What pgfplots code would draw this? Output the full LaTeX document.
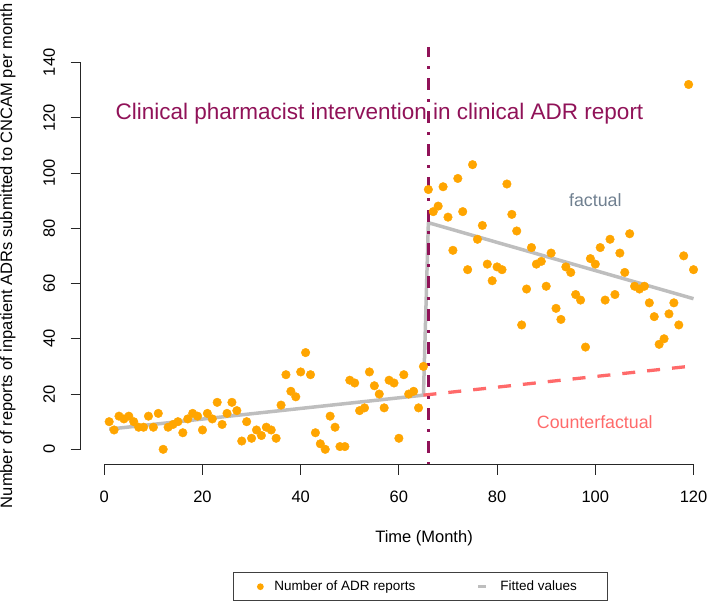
\documentclass[border=0pt]{standalone}
\usepackage{fontspec}
\setmainfont{Liberation Sans}
\usepackage{pgfplots}
\usepackage{pgfplotstable}
\pgfplotsset{compat=1.18}

\definecolor{ptorange}{HTML}{FFA500}
\definecolor{fitgray}{HTML}{BEBEBE}
\definecolor{cfred}{HTML}{FF6A6A}
\definecolor{intv}{HTML}{901258}
\definecolor{factcol}{HTML}{708090}

% monthly ADR reports
\pgfplotstableread{
month count
1 10
2 7
3 12
4 11
5 12
6 10
7 8
8 8
9 12
10 8
11 13
12 0
13 8
14 9
15 10
16 6
17 11
18 13
19 12
20 7
21 13
22 11
23 17
24 9
25 13
26 17
27 14
28 3
29 10
30 4
31 7
32 5
33 8
34 7
35 4
36 16
37 27
38 21
39 19
40 28
41 35
42 27
43 6
44 2
45 0
46 12
47 8
48 1
49 1
50 25
51 24
52 14
53 15
54 28
55 23
56 20
57 15
58 25
59 24
60 4
61 27
62 20
63 21
64 15
65 30
66 94
67 86
68 88
69 95
70 84
71 72
72 98
73 86
74 65
75 103
76 76
77 81
78 67
79 61
80 66
81 65
82 96
83 85
84 79
85 45
86 58
87 73
88 67
89 68
90 59
91 71
92 51
93 47
94 66
95 64
96 56
97 54
98 37
99 69
100 67
101 73
102 54
103 76
104 56
105 71
106 64
107 78
108 59
109 58
110 59
111 53
112 48
113 38
114 40
115 49
116 53
117 45
118 70
119 132
120 65
}\adrdata

\begin{document}
\begin{tikzpicture}
\begin{axis}[
  scale only axis,
  width=627.3pt, height=417.9pt,
  xmin=-4.8, xmax=122.95, ymin=-5.6, ymax=145.6,
  clip=false,
  axis lines*=left,
  axis line style={draw=none},
  tick align=outside,
  major tick length=10pt,
  tick style={black!85, line width=0.8pt},
  xtick={0,20,...,120}, ytick={0,20,...,140},
  /pgf/number format/assume math mode=true,
  ticklabel style={font=\fontsize{16.5}{18}\selectfont},
  yticklabel style={rotate=90, anchor=base, yshift=15.7pt},
  xticklabel style={anchor=base, yshift=-27.5pt},
  xlabel={Time (Month)},
  ylabel={Number of reports of inpatient ADRs submitted to CNCAM per month},
  label style={font=\fontsize{16.5}{18}\selectfont},
  xlabel style={at={(0.5473,-0.1855)}, anchor=base},
  ylabel style={at={(-0.1095,0.5)}, anchor=base},
  legend columns=-1,
  legend style={at={(0.2421,-0.2572)}, anchor=north west,
    draw=black!75, line width=0.8pt, inner xsep=0pt, inner ysep=0pt,
    font=\fontsize{13.5}{16}\selectfont,
    nodes={inner sep=0pt}, column sep=0pt},
  legend cell align=left,
]
\addplot[only marks, mark=*, mark size=4.3pt,
  mark options={fill=ptorange, draw=ptorange},
  legend image code/.code={%
    \path[draw=none, fill=none] (0pt,-14pt) rectangle (41.4pt,14pt);
    \fill[ptorange, draw=none] (27.4pt,0pt) circle (3.4pt);}]
  table[x=month, y=count] {\adrdata};
\addlegendentry{Number of ADR reports}

% segmented regression fit
\addplot[fitgray, line width=3.5pt, line join=round,
  legend image code/.code={%
    \path[draw=none, fill=none] (0pt,-14pt) rectangle (85pt,14pt);
    \draw[fitgray, line width=3.5pt] (63pt,0pt) -- (71pt,0pt);}]
  coordinates {(1,7.3) (65,19.6) (66,82) (120,54.5)};
\addlegendentry{Fitted values\hspace*{30.8pt}}

% counterfactual trend
\addplot[cfred, line width=3.3pt, dash pattern=on 13pt off 12pt, forget plot]
  coordinates {(65,19.6) (120,30.2)};

% intervention
\addplot[intv, line width=3.3pt, dash pattern=on 3pt off 9pt on 12pt off 9pt, forget plot]
  coordinates {(66,-5.6) (66,145.6)};

\draw[black!85, line width=0.8pt] (axis cs:0,-5.6) -- (axis cs:120,-5.6);
\draw[black!85, line width=0.8pt] (axis cs:-4.8,0) -- (axis cs:-4.8,140);

\node[anchor=base, text=intv, font=\fontsize{22.5}{26}\selectfont]
  at (axis cs:56.05,119.4) {Clinical pharmacist intervention in clinical ADR report};
\node[anchor=base, text=factcol, font=\fontsize{17.8}{20}\selectfont]
  at (axis cs:100,87.8) {factual};
\node[anchor=base, text=cfred, font=\fontsize{17.8}{20}\selectfont]
  at (axis cs:99.9,7.6) {Counterfactual};

\coordinate (pbl) at (rel axis cs:0,0);
\coordinate (ptr) at (rel axis cs:1,1);
\end{axis}
\pgfresetboundingbox
\path[use as bounding box] ([shift={(-80.7pt,-140.2pt)}]pbl) rectangle ([shift={(0pt,46.9pt)}]ptr);
\end{tikzpicture}
\end{document}
